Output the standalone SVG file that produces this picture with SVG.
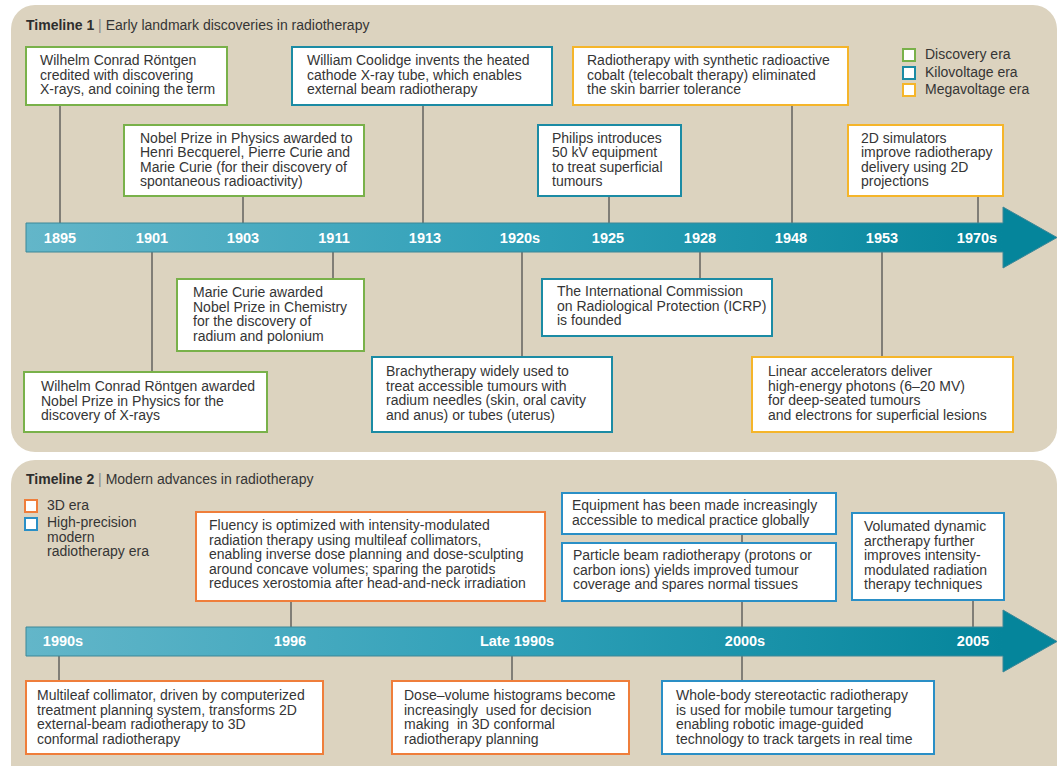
<svg xmlns="http://www.w3.org/2000/svg" width="1058" height="766" viewBox="0 0 1058 766">
<defs>
<linearGradient id="barGrad" gradientUnits="userSpaceOnUse" x1="26" y1="0" x2="1003" y2="0">
<stop offset="0" stop-color="#63b6c9"/>
<stop offset="0.5" stop-color="#2fa0b8"/>
<stop offset="1" stop-color="#05859b"/>
</linearGradient>
<style>
text{font-family:"Liberation Sans",Arial,sans-serif;font-size:14px;fill:#353535;white-space:pre}
.title{font-weight:bold;fill:#2e2e2e}
.sep{fill:#888}
.yr{font-weight:bold;fill:#ffffff;font-size:14.5px;text-anchor:middle}
.box{fill:#ffffff;stroke-width:2}
.g{stroke:#79b14a}
.t{stroke:#1b8ba4}
.y{stroke:#f5b52a}
.o{stroke:#ef7e3b}
.b{stroke:#2a8fc6}
.panel{fill:#dcd3bf}
.conn line{stroke:#505050;stroke-width:1.3}
.arrow{fill:url(#barGrad);stroke:#3d8797;stroke-width:1}
</style>
</defs>
<rect width="1058" height="766" fill="#ffffff"/>
<rect class="panel" x="11" y="5" width="1046" height="447" rx="24"/>
<rect class="panel" x="11" y="460" width="1046" height="340" rx="24"/>

<text x="26" y="30"><tspan class="title">Timeline 1</tspan><tspan class="sep"> | </tspan><tspan>Early landmark discoveries in radiotherapy</tspan></text>
<text x="26" y="484"><tspan class="title">Timeline 2</tspan><tspan class="sep"> | </tspan><tspan>Modern advances in radiotherapy</tspan></text>

<g id="legend1">
<rect class="box g" x="903" y="49" width="12" height="12"/>
<rect class="box t" x="903" y="67" width="12" height="12"/>
<rect class="box y" x="903" y="84" width="12" height="12"/>
<text x="925" y="59">Discovery era</text>
<text x="925" y="77">Kilovoltage era</text>
<text x="925" y="94">Megavoltage era</text>
</g>
<g id="legend2">
<rect class="box o" x="25" y="500" width="12" height="12"/>
<rect class="box b" x="25" y="518" width="12" height="12"/>
<text x="47" y="510">3D era</text>
<text x="47" y="527">High-precision<tspan x="47" dy="14.5">modern</tspan><tspan x="47" dy="14.5">radiotherapy era</tspan></text>
</g>

<g id="connectors" class="conn">
<line x1="60" y1="105" x2="60" y2="223"/>
<line x1="243" y1="196" x2="243" y2="223"/>
<line x1="423" y1="105" x2="423" y2="223"/>
<line x1="609" y1="196" x2="609" y2="223"/>
<line x1="792" y1="105" x2="792" y2="223"/>
<line x1="978" y1="196" x2="978" y2="223"/>
<line x1="152" y1="252" x2="152" y2="372"/>
<line x1="333" y1="252" x2="333" y2="279"/>
<line x1="522" y1="252" x2="522" y2="357"/>
<line x1="700" y1="252" x2="700" y2="279"/>
<line x1="882" y1="252" x2="882" y2="357"/>
<line x1="291" y1="601" x2="291" y2="627"/>
<line x1="742" y1="534" x2="742" y2="543"/>
<line x1="742" y1="601" x2="742" y2="627"/>
<line x1="973" y1="600" x2="973" y2="627"/>
<line x1="59" y1="656" x2="59" y2="681"/>
<line x1="512" y1="656" x2="512" y2="681"/>
<line x1="742" y1="656" x2="742" y2="681"/>
</g>

<g id="timeline1">
<path class="arrow" d="M26,223 H1003 V207 L1057,237.5 L1003,268 V252 H26 Z"/>
<text class="yr" x="60" y="243">1895</text>
<text class="yr" x="152" y="243">1901</text>
<text class="yr" x="243" y="243">1903</text>
<text class="yr" x="334" y="243">1911</text>
<text class="yr" x="425" y="243">1913</text>
<text class="yr" x="520" y="243">1920s</text>
<text class="yr" x="608" y="243">1925</text>
<text class="yr" x="700" y="243">1928</text>
<text class="yr" x="791" y="243">1948</text>
<text class="yr" x="882" y="243">1953</text>
<text class="yr" x="977" y="243">1970s</text>
</g>

<g id="timeline2">
<path class="arrow" d="M26,627 H1003 V610 L1057,641.5 L1003,672 V656 H26 Z"/>
<text class="yr" x="63" y="646">1990s</text>
<text class="yr" x="290" y="646">1996</text>
<text class="yr" x="517" y="646">Late 1990s</text>
<text class="yr" x="745" y="646">2000s</text>
<text class="yr" x="973" y="646">2005</text>
</g>

<g id="n1895">
<rect class="box g" x="26" y="47" width="201" height="58"/>
<text x="40" y="65">Wilhelm Conrad Röntgen<tspan x="40" dy="14.5">credited with discovering</tspan><tspan x="40" dy="14.5">X-rays, and coining the term</tspan></text>
</g>
<g id="n1903">
<rect class="box g" x="124" y="125" width="240" height="71"/>
<text x="140" y="142.5">Nobel Prize in Physics awarded to<tspan x="140" dy="14.6">Henri Becquerel, Pierre Curie and</tspan><tspan x="140" dy="14.6">Marie Curie (for their discovery of</tspan><tspan x="140" dy="14.6">spontaneous radioactivity)</tspan></text>
</g>
<g id="n1913">
<rect class="box t" x="292" y="47" width="260" height="58"/>
<text x="307" y="65">William Coolidge invents the heated<tspan x="307" dy="14.5">cathode X-ray tube, which enables</tspan><tspan x="307" dy="14.5">external beam radiotherapy</tspan></text>
</g>
<g id="n1948">
<rect class="box y" x="573" y="47" width="275" height="58"/>
<text x="587" y="65">Radiotherapy with synthetic radioactive<tspan x="587" dy="14.5">cobalt (telecobalt therapy) eliminated</tspan><tspan x="587" dy="14.5">the skin barrier tolerance</tspan></text>
</g>
<g id="n1925">
<rect class="box t" x="538" y="125" width="143" height="71"/>
<text x="552" y="142.5">Philips introduces<tspan x="552" dy="14.6">50 kV equipment</tspan><tspan x="552" dy="14.6">to treat superficial</tspan><tspan x="552" dy="14.6">tumours</tspan></text>
</g>
<g id="n1970s">
<rect class="box y" x="848" y="125" width="155" height="71"/>
<text x="861" y="142.5">2D simulators<tspan x="861" dy="14.6">improve radiotherapy</tspan><tspan x="861" dy="14.6">delivery using 2D</tspan><tspan x="861" dy="14.6">projections</tspan></text>
</g>
<g id="n1901">
<rect class="box g" x="24" y="372" width="243" height="60"/>
<text x="41" y="391">Wilhelm Conrad Röntgen awarded<tspan x="41" dy="14.6">Nobel Prize in Physics for the</tspan><tspan x="41" dy="14.6">discovery of X-rays</tspan></text>
</g>
<g id="n1911">
<rect class="box g" x="177" y="279" width="187" height="72"/>
<text x="193" y="297">Marie Curie awarded<tspan x="193" dy="14.6">Nobel Prize in Chemistry</tspan><tspan x="193" dy="14.6">for the discovery of</tspan><tspan x="193" dy="14.6">radium and polonium</tspan></text>
</g>
<g id="n1920s">
<rect class="box t" x="372" y="357" width="240" height="75"/>
<text x="386" y="376">Brachytherapy widely used to<tspan x="386" dy="14.6">treat accessible tumours with</tspan><tspan x="386" dy="14.6">radium needles (skin, oral cavity</tspan><tspan x="386" dy="14.6">and anus) or tubes (uterus)</tspan></text>
</g>
<g id="n1928">
<rect class="box t" x="542" y="279" width="230" height="57"/>
<text x="557" y="296">The International Commission<tspan x="557" dy="14.6">on Radiological Protection (ICRP)</tspan><tspan x="557" dy="14.6">is founded</tspan></text>
</g>
<g id="n1953">
<rect class="box y" x="752" y="357" width="261" height="75"/>
<text x="768" y="376">Linear accelerators deliver<tspan x="768" dy="14.6">high-energy photons (6–20 MV)</tspan><tspan x="768" dy="14.6">for deep-seated tumours</tspan><tspan x="768" dy="14.6">and electrons for superficial lesions</tspan></text>
</g>

<g id="n1996">
<rect class="box o" x="196" y="512" width="349" height="89"/>
<text x="209" y="530">Fluency is optimized with intensity-modulated<tspan x="209" dy="14.6">radiation therapy using multileaf collimators,</tspan><tspan x="209" dy="14.6">enabling inverse dose planning and dose-sculpting</tspan><tspan x="209" dy="14.6">around concave volumes; sparing the parotids</tspan><tspan x="209" dy="14.6">reduces xerostomia after head-and-neck irradiation</tspan></text>
</g>
<g id="n2000s-a">
<rect class="box b" x="562" y="493" width="274" height="41"/>
<text x="572" y="510">Equipment has been made increasingly<tspan x="572" dy="14.6">accessible to medical practice globally</tspan></text>
</g>
<g id="n2000s-b">
<rect class="box b" x="562" y="543" width="274" height="58"/>
<text x="573" y="560">Particle beam radiotherapy (protons or<tspan x="573" dy="14.6">carbon ions) yields improved tumour</tspan><tspan x="573" dy="14.6">coverage and spares normal tissues</tspan></text>
</g>
<g id="n2005">
<rect class="box b" x="852" y="513" width="152" height="87"/>
<text x="864" y="531">Volumated dynamic<tspan x="864" dy="14.6">arctherapy further</tspan><tspan x="864" dy="14.6">improves intensity-</tspan><tspan x="864" dy="14.6">modulated radiation</tspan><tspan x="864" dy="14.6">therapy techniques</tspan></text>
</g>
<g id="n1990s">
<rect class="box o" x="26" y="681" width="297" height="73"/>
<text x="37" y="700">Multileaf collimator, driven by computerized<tspan x="37" dy="14.6">treatment planning system, transforms 2D</tspan><tspan x="37" dy="14.6">external-beam radiotherapy to 3D</tspan><tspan x="37" dy="14.6">conformal radiotherapy</tspan></text>
</g>
<g id="nLate1990s">
<rect class="box o" x="392" y="681" width="237" height="73"/>
<text x="404" y="700">Dose–volume histograms become<tspan x="404" dy="14.6">increasingly  used for decision</tspan><tspan x="404" dy="14.6">making  in 3D conformal</tspan><tspan x="404" dy="14.6">radiotherapy planning</tspan></text>
</g>
<g id="n2000s-c">
<rect class="box b" x="662" y="681" width="272" height="73"/>
<text x="676" y="700">Whole-body stereotactic radiotherapy<tspan x="676" dy="14.6">is used for mobile tumour targeting</tspan><tspan x="676" dy="14.6">enabling robotic image-guided</tspan><tspan x="676" dy="14.6">technology to track targets in real time</tspan></text>
</g>
</svg>
